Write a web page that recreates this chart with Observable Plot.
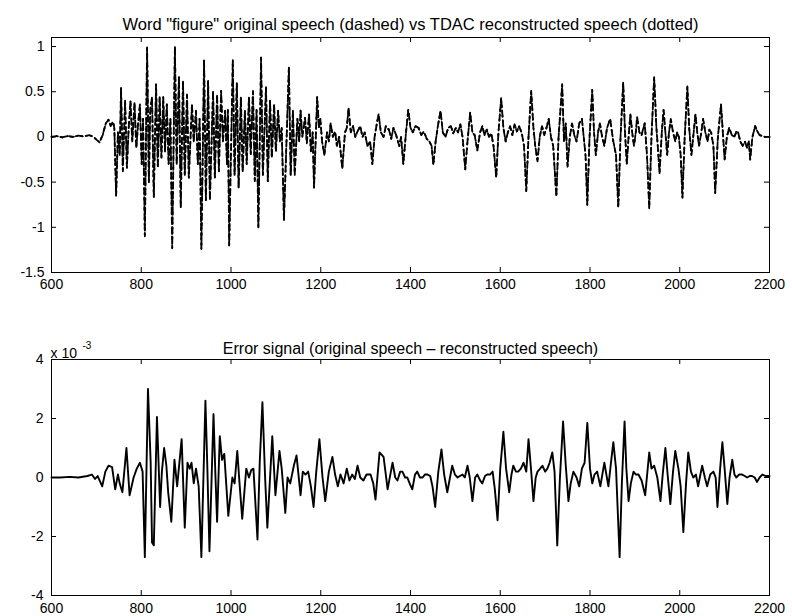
<!DOCTYPE html>
<html>
<head>
<meta charset="utf-8">
<script src="https://cdn.jsdelivr.net/npm/d3@7"></script>
<script src="https://cdn.jsdelivr.net/npm/@observablehq/plot@0.6"></script>
<style>
  html, body { margin: 0; padding: 0; background: #fff; }
  #chart svg { display: block; }
</style>
</head>
<body>
<div id="chart"></div>
<script>
// ---- text ----
const topTitle = 'Word "figure" original speech (dashed) vs TDAC reconstructed speech (dotted)';
const bottomTitle = "Error signal (original speech \u2013 reconstructed speech)";
const errorScaleBase = "x 10";
const errorScaleExp = "-3";

// ---- ticks ----
const xTicks = [600, 800, 1000, 1200, 1400, 1600, 1800, 2000, 2200];
const speechYTicks = [-1.5, -1, -0.5, 0, 0.5, 1];
const errorYTicks = [-4, -2, 0, 2, 4];

// ---- original speech, [sample index, amplitude] ----
const originalSpeech = [
  [600,0],[612,0.01],[624,-0.005],[636,0.01],[648,0],[660,0.015],[672,0.005],[684,0.02],[694,0],[700,-0.03],
  [707,-0.06],[714,0.02],[721,0.15],[727,0.19],[732,0.12],[737,0.17],[740,0.1],[744,-0.65],[748,0.05],[752,-0.2],
  [755,0.54],[759,-0.38],[764,0.4],[768,-0.34],[772,0.1],[776,0.4],[780,-0.05],[785,0.38],[789,-0.12],[793,0.15],
  [797,0.36],[801,-0.3],[804,0.2],[808,-1.1],[813,0.99],[817,-0.5],[820,0.3],[824,0.44],[828,-0.67],[833,0.58],
  [837,-0.34],[841,0.44],[845,-0.23],[849,0.44],[853,-0.16],[857,0.36],[861,-0.3],[865,0.2],[869,-1.23],[875,1.0],
  [879,-0.3],[884,0.66],[888,-0.78],[893,0.62],[897,-0.42],[902,0.47],[906,-0.45],[913,0.36],[917,-0.05],[922,0.29],
  [926,-0.3],[930,0.2],[934,-1.24],[940,0.85],[944,-0.7],[949,0.62],[953,-0.7],[960,0.51],[964,-0.45],[969,0.47],
  [973,-0.38],[978,0.51],[982,-0.05],[987,0.29],[991,-0.3],[993,0.3],[996,-1.2],[1004,0.85],[1008,-0.42],[1013,0.6],
  [1017,-0.56],[1022,0.44],[1026,-0.38],[1031,0.29],[1035,-0.3],[1040,0.44],[1044,-0.19],[1049,0.51],[1053,-0.49],[1057,0.3],
  [1061,-1.0],[1067,0.88],[1071,-0.42],[1078,0.55],[1082,-0.49],[1087,0.4],[1091,-0.23],[1096,0.36],[1100,-0.16],[1105,0.29],
  [1109,-0.05],[1113,0.1],[1118,-0.92],[1129,0.77],[1133,-0.42],[1138,0.29],[1142,-0.42],[1148,0.2],[1152,-0.05],[1155,0.29],
  [1159,0],[1165,0.21],[1169,-0.07],[1174,0.25],[1178,-0.16],[1182,0.05],[1185,-0.56],[1192,0.44],[1196,0.1],[1199,0.2],
  [1203,-0.05],[1208,-0.2],[1214,0.05],[1218,-0.05],[1222,0.15],[1227,0],[1232,0.06],[1236,-0.1],[1241,0],[1248,-0.35],
  [1254,0.05],[1258,0.1],[1262,0.32],[1267,0.05],[1272,0.12],[1277,0],[1282,0.06],[1288,0.12],[1293,0],[1298,0.05],
  [1304,-0.1],[1310,-0.05],[1315,-0.3],[1320,0],[1325,0.15],[1329,0.25],[1334,0.05],[1340,0],[1345,0.12],[1352,0.08],
  [1357,-0.02],[1362,0.1],[1368,0.02],[1375,-0.1],[1379,0],[1384,-0.3],[1390,0.05],[1395,0.3],[1400,0.1],[1405,0.05],
  [1411,0.12],[1418,0.1],[1424,0.02],[1430,0.06],[1436,-0.02],[1442,-0.05],[1447,-0.1],[1451,-0.31],[1456,-0.05],[1461,0.12],
  [1467,0.29],[1472,0.05],[1478,0],[1484,0.1],[1490,0.12],[1495,0.04],[1501,0.1],[1506,0.05],[1511,0.14],[1516,0],
  [1522,-0.36],[1527,-0.05],[1533,0.27],[1538,0.05],[1543,0.02],[1549,-0.15],[1555,0.05],[1560,0.12],[1565,0.02],[1570,0.08],
  [1575,0],[1580,0.04],[1585,-0.1],[1591,-0.45],[1596,0.05],[1602,0.43],[1607,0.1],[1612,-0.05],[1617,0.05],[1622,0.12],
  [1627,0.02],[1632,0.14],[1637,0.06],[1642,0.12],[1648,0.04],[1653,-0.1],[1658,-0.6],[1663,0],[1669,0.51],[1674,0.1],
  [1678,-0.1],[1683,-0.27],[1688,0],[1693,0.12],[1698,0.02],[1703,0.1],[1708,0.2],[1713,0],[1718,-0.1],[1725,-0.66],
  [1730,0],[1738,0.58],[1742,-0.05],[1746,0.15],[1750,-0.33],[1755,0],[1760,0.15],[1765,0.02],[1770,-0.05],[1776,0.15],
  [1782,0.2],[1786,0],[1790,-0.2],[1794,-0.75],[1799,0],[1805,0.52],[1809,0.05],[1813,-0.2],[1818,0.05],[1822,0.15],
  [1827,0],[1832,-0.1],[1838,0.1],[1845,0.2],[1849,0.05],[1852,-0.05],[1858,-0.2],[1863,-0.78],[1868,0],[1874,0.6],
  [1878,0.05],[1882,-0.3],[1886,0],[1890,0.25],[1894,0.05],[1898,-0.1],[1902,0.05],[1905,0.22],[1910,0.05],[1915,0.02],
  [1919,0.1],[1922,0.15],[1927,-0.2],[1932,-0.79],[1937,0],[1943,0.66],[1948,0.1],[1951,-0.1],[1955,-0.4],[1960,0.05],
  [1964,0.3],[1968,0.05],[1972,-0.2],[1976,0.05],[1980,0.2],[1985,0.05],[1990,-0.05],[1994,0.05],[1998,0],[2002,-0.2],
  [2006,-0.67],[2011,0],[2017,0.56],[2021,0.1],[2026,-0.2],[2031,0.05],[2035,0.25],[2039,0.05],[2043,-0.1],[2048,0.05],
  [2052,0.2],[2057,0.05],[2062,-0.05],[2066,0.08],[2070,0.05],[2075,-0.1],[2079,-0.62],[2085,0],[2092,0.36],[2096,0.05],
  [2100,-0.25],[2105,0],[2110,0.1],[2116,0.02],[2122,0],[2126,0.06],[2130,0.05],[2135,-0.05],[2140,-0.1],[2145,-0.05],
  [2150,-0.12],[2154,-0.05],[2157,-0.25],[2162,0],[2168,0.12],[2173,0.06],[2178,0.02],[2184,0.01],[2190,0],[2200,0]
];
// The reconstructed (dotted) trace lies on top of the original in the picture:
// they differ only by ~1e-3, far below one pixel, so the same readings are used.
const reconstructedSpeech = originalSpeech;

// ---- error signal, [sample index, value in units of 10^-3] ----
const errorSignal = [
  [600,0],[620,0],[640,0.02],[660,0],[680,0.05],[690,0.1],[697,-0.05],[703,0.05],[713,-0.3],[720,0.2],
  [727,0.4],[735,0.35],[742,-0.4],[748,0.1],[752,-0.2],[758,-0.5],[767,1.0],[774,-0.6],[783,0],[790,0.3],
  [797,0.5],[803,0.2],[808,-2.7],[815,3.0],[821,0.5],[824,-2.2],[828,-2.3],[835,2.05],[842,-1.0],[846,0.2],
  [851,1.0],[856,0.4],[860,-0.5],[867,-1.5],[874,0.6],[880,-0.3],[890,1.3],[897,-1.7],[903,0.5],[908,0.3],
  [912,0.5],[917,-0.2],[922,0.3],[928,-0.3],[934,-2.7],[943,2.6],[947,0.5],[952,-2.5],[961,2.15],[965,0.2],
  [969,-1.5],[975,1.4],[980,0.6],[985,0.8],[994,-1.3],[1003,0],[1008,-0.2],[1014,0.9],[1019,-0.2],[1025,-1.4],
  [1034,0.3],[1040,0],[1045,0.25],[1050,0.3],[1059,-2.1],[1064,0.5],[1070,2.55],[1076,0],[1081,-1.7],[1092,1.4],
  [1099,-0.6],[1108,0.9],[1113,0.3],[1121,-1.2],[1126,0],[1132,-0.2],[1140,0.4],[1146,0.75],[1155,-0.6],[1160,0.2],
  [1166,0.1],[1172,0.2],[1178,-0.3],[1184,-1.0],[1190,0.2],[1197,1.3],[1204,0],[1210,-0.8],[1218,0.2],[1226,0.7],
  [1232,0.1],[1238,-0.3],[1244,0.1],[1251,-0.2],[1258,0.3],[1264,-0.1],[1270,0.1],[1276,-0.05],[1282,0.4],[1288,0],
  [1295,-0.1],[1302,0.1],[1311,0.1],[1317,-0.2],[1322,-0.75],[1331,0.85],[1340,0.7],[1345,0.1],[1349,-0.4],[1355,0.1],
  [1360,0.5],[1366,0],[1371,-0.1],[1377,0.2],[1382,0.2],[1388,0],[1393,0],[1398,-0.2],[1404,-0.4],[1410,0.1],
  [1415,0.2],[1421,0],[1427,0],[1432,0.1],[1438,0.1],[1444,0.05],[1449,-0.3],[1455,-1.0],[1462,0.2],[1469,0.95],
  [1475,0.1],[1482,-0.5],[1488,0],[1493,0.4],[1499,0.1],[1505,0],[1510,0.05],[1516,0.1],[1521,0],[1527,0.4],
  [1532,0],[1538,-0.8],[1544,0],[1549,0.1],[1555,-0.1],[1560,-0.2],[1566,0.05],[1571,0.1],[1577,0.1],[1583,0.2],
  [1588,-0.4],[1594,-1.45],[1600,0.3],[1607,1.55],[1613,0.3],[1620,-0.5],[1625,0.1],[1629,0.4],[1635,0.2],[1640,0.2],
  [1646,0.3],[1652,0.5],[1658,0.2],[1663,1.3],[1669,0.2],[1674,-0.8],[1679,0],[1683,0.2],[1689,0.3],[1694,0.4],
  [1700,0.2],[1705,0.3],[1710,0.5],[1716,0.85],[1721,0.2],[1727,-2.3],[1733,0],[1740,1.9],[1746,0.4],[1752,-0.8],
  [1757,-0.2],[1763,0.2],[1770,0],[1776,-0.3],[1782,0.3],[1788,0.5],[1794,1.85],[1800,0.3],[1805,-0.2],[1810,0.1],
  [1816,0.2],[1823,-0.3],[1832,0.5],[1841,-0.3],[1846,0.4],[1852,1.2],[1858,0.3],[1866,-2.7],[1871,-0.2],[1877,1.9],
  [1881,0.3],[1886,-0.8],[1891,-0.2],[1897,0.2],[1902,0.1],[1908,0.1],[1915,-0.1],[1923,-0.6],[1932,0.85],[1937,0.3],
  [1943,0.4],[1950,0],[1957,-0.8],[1962,0.1],[1968,1.0],[1973,0.1],[1979,-0.9],[1985,0.2],[1990,0.9],[1997,0.3],
  [2002,-0.3],[2008,-1.85],[2014,-0.2],[2019,0.85],[2025,0.2],[2030,0],[2036,0.1],[2041,-0.3],[2046,0.1],[2050,0.4],
  [2056,0],[2061,-0.3],[2068,0.1],[2075,0.2],[2080,0],[2084,-1.0],[2090,0.3],[2095,1.2],[2100,0.3],[2106,-0.9],
  [2111,0],[2117,0.6],[2122,0.1],[2126,0],[2132,0.1],[2139,0.1],[2145,0.05],[2150,0],[2156,0.05],[2161,0.05],
  [2167,0],[2172,-0.15],[2178,0],[2184,0.1],[2192,0.05],[2200,0.05]
];

// ---- layout ----
const W = 792;
const mL = 51, mR = 23;
const frameW = W - mL - mR;
const tickLen = 5;
const font = "'Liberation Sans', Arial, Helvetica, sans-serif";
const tickFont = 14;
const fmt = d => String(d);

function boxTicks(yTicks, frameH) {
  return [
    Plot.tickX(xTicks, {x: d => d, insetTop: frameH - tickLen, stroke: "black"}),
    Plot.tickX(xTicks, {x: d => d, insetBottom: frameH - tickLen, stroke: "black"}),
    Plot.tickY(yTicks, {y: d => d, insetRight: frameW - tickLen, stroke: "black"}),
    Plot.tickY(yTicks, {y: d => d, insetLeft: frameW - tickLen, stroke: "black"})
  ];
}

// ---- top panel ----
const speechH = 300, speechMT = 37, speechMB = 28;
const speechFrameH = speechH - speechMT - speechMB;
const speechPlot = Plot.plot({
  width: W, height: speechH,
  marginTop: speechMT, marginBottom: speechMB, marginLeft: mL, marginRight: mR,
  style: {fontFamily: font, fontSize: tickFont + "px", color: "black", background: "white", overflow: "visible"},
  x: {domain: [600, 2200]},
  y: {domain: [-1.5, 1.1]},
  marks: [
    Plot.line(originalSpeech, {x: d => d[0], y: d => d[1], stroke: "black", strokeWidth: 1.8, strokeDasharray: "5,4"}),
    Plot.line(reconstructedSpeech, {x: d => d[0], y: d => d[1], stroke: "black", strokeWidth: 1.8, strokeDasharray: "1.5,3.5"}),
    Plot.frame({stroke: "black"}),
    ...boxTicks(speechYTicks, speechFrameH),
    Plot.axisX({ticks: xTicks, tickSize: 0, tickPadding: 7, tickFormat: fmt, label: null, fontSize: tickFont}),
    Plot.axisY({ticks: speechYTicks, tickSize: 0, tickPadding: 7, tickFormat: fmt, label: null, fontSize: tickFont}),
    Plot.text([topTitle], {text: d => d, frameAnchor: "top", dy: -19, fontSize: 16.5})
  ]
});

// ---- bottom panel ----
const errH = 316, errMT = 59, errMB = 21;
const errFrameH = errH - errMT - errMB;
const errorPlot = Plot.plot({
  width: W, height: errH,
  marginTop: errMT, marginBottom: errMB, marginLeft: mL, marginRight: mR,
  style: {fontFamily: font, fontSize: tickFont + "px", color: "black", background: "white", overflow: "visible"},
  x: {domain: [600, 2200]},
  y: {domain: [-4, 4]},
  marks: [
    Plot.line(errorSignal, {x: d => d[0], y: d => d[1], stroke: "black", strokeWidth: 1.9}),
    Plot.frame({stroke: "black"}),
    ...boxTicks(errorYTicks, errFrameH),
    Plot.axisX({ticks: xTicks, tickSize: 0, tickPadding: 8, tickFormat: fmt, label: null, fontSize: tickFont}),
    Plot.axisY({ticks: errorYTicks, tickSize: 0, tickPadding: 8, tickFormat: fmt, label: null, fontSize: tickFont}),
    Plot.text([bottomTitle], {text: d => d, frameAnchor: "top", dy: -17, fontSize: 16}),
    Plot.text([errorScaleBase], {text: d => d, frameAnchor: "top-left", textAnchor: "start", dx: -1, dy: -11, fontSize: tickFont}),
    Plot.text([errorScaleExp], {text: d => d, frameAnchor: "top-left", textAnchor: "start", dx: 31, dy: -18, fontSize: 10})
  ]
});

document.getElementById("chart").append(speechPlot, errorPlot);
</script>
</body>
</html>
